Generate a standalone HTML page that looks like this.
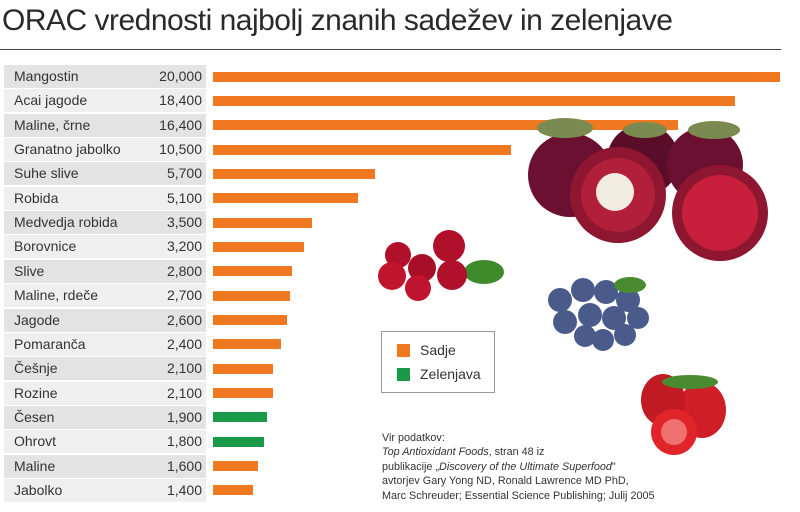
<!DOCTYPE html>
<html><head><meta charset="utf-8"><style>
body{margin:0;width:800px;height:512px;background:#fff;position:relative;overflow:hidden;font-family:"Liberation Sans",sans-serif;color:#333}
.t{position:absolute;left:2px;top:4px;font-size:30px;letter-spacing:-0.5px;color:#2a2a2a;white-space:nowrap}
.hl{position:absolute;left:0;top:49px;width:781px;height:1px;background:#444}
.r{position:absolute;left:4px;width:202px;height:23px;font-size:14px;line-height:23px}
.r span{position:absolute;left:10px}.r b{position:absolute;right:4px;font-weight:normal}
.b{position:absolute;left:213px;height:10px}
.lg{position:absolute;left:381px;top:331px;width:114px;height:62px;border:1px solid #999;box-sizing:border-box;font-size:14px}
.src{position:absolute;left:382px;top:431px;font-size:10.8px;line-height:14.4px;color:#333;white-space:nowrap}
</style></head><body>
<div class="t">ORAC vrednosti najbolj znanih sadežev in zelenjave</div>
<div class="hl"></div>
<div id="rows"></div>
<svg style="position:absolute;left:0;top:0" width="800" height="512">
<!-- mangosteens -->
<circle cx="570" cy="175" r="42" fill="#6b1030"/>
<circle cx="643" cy="160" r="36" fill="#5a0d28"/>
<circle cx="705" cy="165" r="38" fill="#6b1030"/>
<circle cx="618" cy="195" r="48" fill="#8e1630"/>
<circle cx="618" cy="195" r="37" fill="#b21f3a"/>
<circle cx="615" cy="192" r="19" fill="#f1ece0"/>
<circle cx="720" cy="213" r="48" fill="#8e1630"/>
<circle cx="720" cy="213" r="38" fill="#c8203c"/>
<ellipse cx="565" cy="128" rx="28" ry="10" fill="#7a8a50"/>
<ellipse cx="645" cy="130" rx="22" ry="8" fill="#7a8a50"/>
<ellipse cx="714" cy="130" rx="26" ry="9" fill="#7a8a50"/>
<!-- cranberries -->
<ellipse cx="484" cy="272" rx="20" ry="12" fill="#3f8a2a"/>
<circle cx="398" cy="255" r="13" fill="#b0102a"/>
<circle cx="449" cy="246" r="16" fill="#b0102a"/>
<circle cx="392" cy="276" r="14" fill="#c0142e"/>
<circle cx="422" cy="268" r="14" fill="#a80e26"/>
<circle cx="418" cy="288" r="13" fill="#c0142e"/>
<circle cx="452" cy="275" r="15" fill="#b0102a"/>
<!-- blueberries -->
<g fill="#4a5a8a">
<circle cx="560" cy="300" r="12"/><circle cx="583" cy="290" r="12"/><circle cx="606" cy="292" r="12"/><circle cx="628" cy="300" r="12"/>
<circle cx="565" cy="322" r="12"/><circle cx="590" cy="315" r="12"/><circle cx="614" cy="318" r="12"/><circle cx="638" cy="318" r="11"/>
<circle cx="585" cy="336" r="11"/><circle cx="603" cy="340" r="11"/><circle cx="625" cy="335" r="11"/></g>
<ellipse cx="630" cy="285" rx="16" ry="8" fill="#4a8a30"/>
<!-- strawberries -->
<ellipse cx="702" cy="410" rx="24" ry="28" fill="#d01e26"/>
<ellipse cx="663" cy="400" rx="22" ry="26" fill="#c01a22"/>
<circle cx="674" cy="432" r="23" fill="#e0242a"/>
<circle cx="674" cy="432" r="13" fill="#f07070"/>
<ellipse cx="690" cy="382" rx="28" ry="7" fill="#4a8a30"/>
</svg>
<div class="lg">
<div style="position:absolute;left:15px;top:12px;width:13px;height:13px;background:#f07820"></div>
<div style="position:absolute;left:38px;top:10px">Sadje</div>
<div style="position:absolute;left:15px;top:36px;width:13px;height:13px;background:#1a9a48"></div>
<div style="position:absolute;left:38px;top:34px">Zelenjava</div>
</div>
<div class="src">Vir podatkov:<br><i>Top Antioxidant Foods</i>, stran 48 iz<br>publikacije „<i>Discovery of the Ultimate Superfood</i>"<br>avtorjev Gary Yong ND, Ronald Lawrence MD PhD,<br>Marc Schreuder; Essential Science Publishing; Julij 2005</div>
<script>
var d=[["Mangostin",20000],["Acai jagode",18400],["Maline, črne",16400],["Granatno jabolko",10500],["Suhe slive",5700],["Robida",5100],["Medvedja robida",3500],["Borovnice",3200],["Slive",2800],["Maline, rdeče",2700],["Jagode",2600],["Pomaranča",2400],["Češnje",2100],["Rozine",2100],["Česen",1900,1],["Ohrovt",1800,1],["Maline",1600],["Jabolko",1400]];
var h="";d.forEach(function(r,i){var y=65+i*24.35;
h+='<div class="r" style="top:'+y+'px;background:'+(i%2?'#efefef':'#e3e3e3')+'"><span>'+r[0]+'</span><b>'+r[1].toLocaleString('en-US')+'</b></div>';
h+='<div class="b" style="top:'+(y+6.5)+'px;width:'+(r[1]*0.02835)+'px;background:'+(r[2]?'#1a9a48':'#f07820')+'"></div>';});
document.getElementById('rows').innerHTML=h;
</script>
</body></html>
